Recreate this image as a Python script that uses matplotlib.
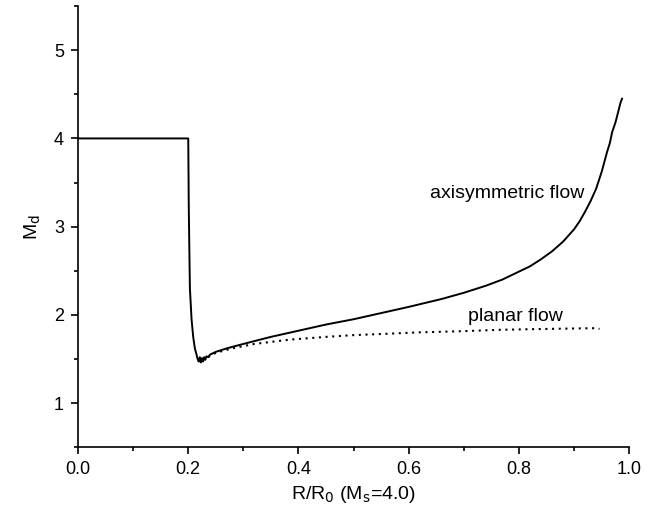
import numpy as np
import matplotlib.pyplot as plt
from matplotlib.ticker import MultipleLocator

plt.rcParams['font.family'] = ['Liberation Sans', 'DejaVu Sans']

# axisymmetric flow: M_d against R/R0
r_axi = [0.0, 0.200, 0.201, 0.203, 0.206, 0.209, 0.212, 0.215, 0.217, 0.219, 0.221,
         0.223, 0.225, 0.227, 0.229, 0.231, 0.233, 0.236, 0.240, 0.250, 0.270,
         0.300, 0.350, 0.400, 0.450, 0.500, 0.550, 0.600, 0.620, 0.660, 0.700,
         0.740, 0.770, 0.800, 0.820, 0.840, 0.860, 0.880, 0.900, 0.910, 0.920,
         0.930, 0.940, 0.950, 0.960, 0.965, 0.969, 0.975, 0.980, 0.984, 0.987]
m_axi = [4.0, 4.0, 3.2, 2.3, 1.95, 1.75, 1.62, 1.55, 1.50, 1.47, 1.52,
         1.46, 1.51, 1.47, 1.52, 1.49, 1.53, 1.52, 1.55, 1.58, 1.62,
         1.67, 1.75, 1.82, 1.89, 1.95, 2.02, 2.09, 2.12, 2.18, 2.25,
         2.33, 2.40, 2.49, 2.55, 2.63, 2.72, 2.83, 2.97, 3.06, 3.17,
         3.29, 3.43, 3.62, 3.85, 3.95, 4.07, 4.18, 4.30, 4.40, 4.45]

# planar flow: M_d against R/R0
r_pla = [0.236, 0.250, 0.280, 0.320, 0.386, 0.450, 0.500, 0.560, 0.613, 0.700,
         0.764, 0.830, 0.900, 0.930, 0.940, 0.946]
m_pla = [1.52, 1.57, 1.62, 1.67, 1.72, 1.75, 1.77, 1.785, 1.80, 1.815,
         1.83, 1.838, 1.845, 1.848, 1.848, 1.84]

fig = plt.figure(figsize=(6.5, 5.11), dpi=100)
ax = fig.add_axes([0.12, 0.125, 0.848, 0.863])

ax.plot(r_axi, m_axi, color='black', lw=1.4)
ax.plot(r_pla, m_pla, color='black', lw=1.5, linestyle=(0, (1, 2.2)))

ax.text(0.639, 3.38, 'axisymmetric flow', fontsize=14, va='center', ha='left')
ax.text(0.708, 1.98, 'planar flow', fontsize=14, va='center', ha='left')

ax.set_xlim(0.0, 1.0)
ax.set_ylim(0.5, 5.5)
ax.xaxis.set_minor_locator(MultipleLocator(0.1))
ax.yaxis.set_minor_locator(MultipleLocator(0.5))
ax.set_xticks([0.0, 0.2, 0.4, 0.6, 0.8, 1.0])
ax.set_xticklabels(['0.0', '0.2', '0.4', '0.6', '0.8', '1.0'])
ax.set_yticks([1, 2, 3, 4, 5])

ax.spines['top'].set_visible(False)
ax.spines['right'].set_visible(False)
for s in ('left', 'bottom'):
    ax.spines[s].set_linewidth(1.2)
ax.tick_params(which='major', direction='out', length=5, width=1.2, labelsize=13, pad=5)
ax.tick_params(which='minor', direction='out', length=3, width=1.2)

ax.set_xlabel(r'R/R$_0$ (M$_\mathrm{s}$=4.0)', fontsize=14, labelpad=4)
ax.set_ylabel(r'M$_\mathrm{d}$', fontsize=14, labelpad=8)

fig.savefig('out.png', dpi=100)
